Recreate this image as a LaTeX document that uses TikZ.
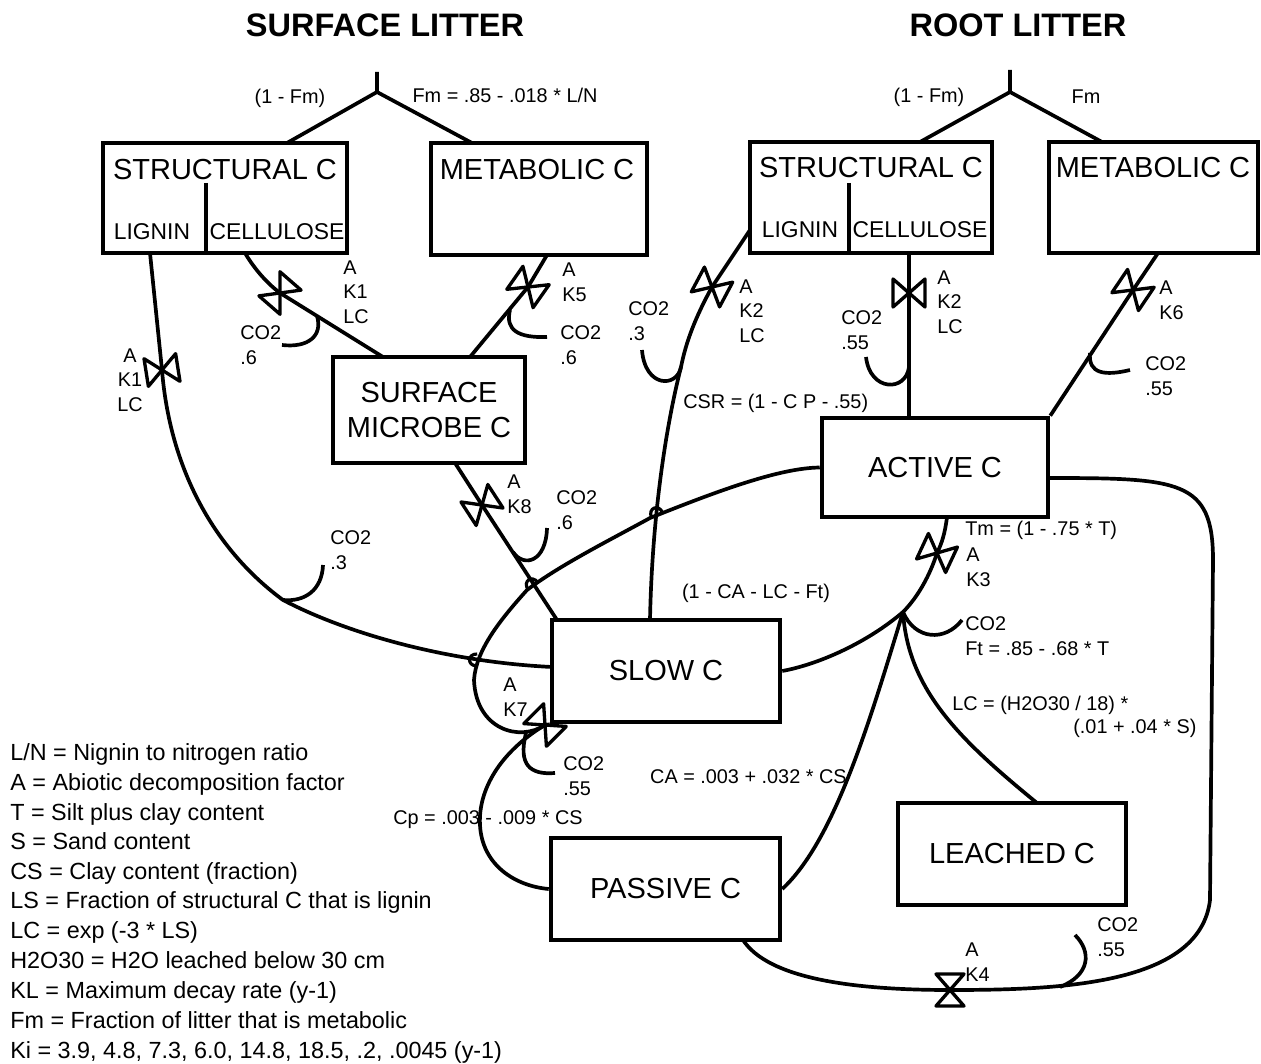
\documentclass[tikz,border=0pt]{standalone}
\usepackage{fontspec}
\setmainfont{Liberation Sans}
\usetikzlibrary{positioning}

\begin{document}
\begin{tikzpicture}[x=0.02cm, y=-0.02cm,
        pool/.style={draw, line width=2.6pt, inner sep=0pt},
        flow/.style={line width=2.1pt},
        boxtext/.style={font=\fontsize{16.5}{20}\selectfont, inner sep=0pt, align=center},
        subtext/.style={font=\fontsize{13}{16}\selectfont, inner sep=0pt},
        lbl/.style={font=\fontsize{11.3}{14}\selectfont, inner sep=0pt, align=left, anchor=west},
        heading/.style={font=\bfseries\fontsize{18.5}{22}\selectfont, inner sep=0pt},
        legendtext/.style={font=\fontsize{13.3}{16}\selectfont, inner sep=0pt, anchor=base west},
        valve/.pic={\draw[line width=1.9pt, line join=round] (0,0) -- (-14,-16) -- (14,-16) -- cycle (0,0) -- (-14,16) -- (14,16) -- cycle;},
        hop/.pic={\draw[line width=1.8pt] (-6,0) .. controls (-6,-10) and (6,-10) .. (6,0);}
    ]
        \useasboundingbox (0,0) rectangle (1261,1064);

        % Titles
        \node[heading] (surfTitle) at (385,25) {SURFACE LITTER};
        \node[heading] (rootTitle) at (1018,25) {ROOT LITTER};

        % Litter pools
        \node[pool, minimum width=4.88cm, minimum height=2.2cm] (sStruct) at (225,198) {};
        \node[boxtext] (sStructLbl) at (225,170) {STRUCTURAL C};
        \node[subtext] (sLignin) at (152,232) {LIGNIN};
        \node[subtext] (sCellulose) at (277,232) {CELLULOSE};
        \draw[flow] (206,183) -- (206,253);

        \node[pool, minimum width=4.32cm, minimum height=2.24cm] (sMeta) at (539,199) {};
        \node[boxtext] (sMetaLbl) at (537,170) {METABOLIC C};

        \node[pool, minimum width=4.84cm, minimum height=2.22cm] (rStruct) at (871,197.5) {};
        \node[boxtext] (rStructLbl) at (871,168) {STRUCTURAL C};
        \node[subtext] (rLignin) at (800,230) {LIGNIN};
        \node[subtext] (rCellulose) at (920,230) {CELLULOSE};
        \draw[flow] (849,183) -- (849,253);

        \node[pool, minimum width=4.18cm, minimum height=2.22cm] (rMeta) at (1153.5,197.5) {};
        \node[boxtext] (rMetaLbl) at (1153,168) {METABOLIC C};

        % Soil pools
        \node[pool, boxtext, minimum width=3.84cm, minimum height=2.12cm] (sMicrobe) at (429,410) {SURFACE\\MICROBE C};
        \node[pool, boxtext, minimum width=4.52cm, minimum height=1.98cm] (active) at (935,467.5) {ACTIVE C};
        \node[pool, boxtext, minimum width=4.56cm, minimum height=2.04cm] (slow) at (666,671) {SLOW C};
        \node[pool, boxtext, minimum width=4.58cm, minimum height=2.04cm] (passive) at (665.5,889) {PASSIVE C};
        \node[pool, boxtext, minimum width=4.56cm, minimum height=2.04cm] (leached) at (1012,854) {LEACHED C};

        % Partitioning of litter input
        \coordinate (sIn) at (377,72);
        \coordinate (sFork) at (377,92);
        \coordinate (sStructIn) at (287,143);
        \coordinate (sMetaIn) at (472,143);
        \draw[flow] (sIn) -- (sFork) -- (sStructIn);
        \draw[flow] (sFork) -- (sMetaIn);
        \node[lbl, anchor=center] (sFrac) at (290,98) {(1 - Fm)};
        \node[lbl, anchor=center] (sFm) at (505,95) {Fm = .85 - .018 * L/N};

        \coordinate (rIn) at (1010,70);
        \coordinate (rFork) at (1010,92);
        \coordinate (rStructIn) at (920,142);
        \coordinate (rMetaIn) at (1102,142);
        \draw[flow] (rIn) -- (rFork) -- (rStructIn);
        \draw[flow] (rFork) -- (rMetaIn);
        \node[lbl, anchor=center] (rFrac) at (929,97) {(1 - Fm)};
        \node[lbl, anchor=center] (rFm) at (1086,97) {Fm};

        % Surface lignin to slow C
        \coordinate (sLigOut) at (150,253);
        \coordinate (vK1a) at (162,370);
        \coordinate (co2a) at (283,600);
        \coordinate (co2aEnd) at (323,565);
        \coordinate (slowLig) at (552,667);
        \draw[flow] (sLigOut) -- (vK1a) .. controls (170,470) and (215,550) .. (co2a) .. controls (350,635) and (450,662) .. (slowLig);
        \draw[flow] (co2a) .. controls (305,602) and (322,590) .. (co2aEnd);
        \pic[rotate=99] at (vK1a) {valve};
        \node[lbl, align=center, anchor=center] (kLigS) at (130,380) {A\\K1\\LC};
        \node[lbl] (co2LigS) at (330,550) {CO2\\.3};

        % Surface cellulose to surface microbes
        \coordinate (sCelOut) at (245,253);
        \coordinate (vK1b) at (280,293);
        \coordinate (co2b) at (317,316);
        \coordinate (co2bEnd) at (282,345);
        \coordinate (sMicIn1) at (383,357);
        \draw[flow] (sCelOut) .. controls (255,270) and (268,284) .. (vK1b) -- (sMicIn1);
        \draw[flow] (co2b) .. controls (323,336) and (308,348) .. (co2bEnd);
        \pic[rotate=-41] at (vK1b) {valve};
        \node[lbl] (kCelS) at (343,292) {A\\K1\\LC};
        \node[lbl] (co2CelS) at (240,345) {CO2\\.6};

        % Surface metabolic to surface microbes
        \coordinate (sMetOut) at (547,255);
        \coordinate (vK5) at (528,287);
        \coordinate (co2c) at (510,310);
        \coordinate (co2cEnd) at (547,337);
        \coordinate (sMicIn2) at (470,357);
        \draw[flow] (sMetOut) -- (vK5) -- (sMicIn2);
        \draw[flow] (co2c) .. controls (505,330) and (518,338) .. (co2cEnd);
        \pic[rotate=55] at (vK5) {valve};
        \node[lbl] (kMetS) at (562,282) {A\\K5};
        \node[lbl] (co2MetS) at (560,345) {CO2\\.6};

        % Surface microbes to slow C
        \coordinate (sMicOut) at (455,463);
        \coordinate (vK8) at (482,505);
        \coordinate (co2d) at (513,552);
        \coordinate (co2dEnd) at (547,528);
        \coordinate (slowIn1) at (557,620);
        \draw[flow] (sMicOut) -- (vK8) -- (slowIn1);
        \draw[flow] (co2d) .. controls (524,568) and (546,562) .. (co2dEnd);
        \pic[rotate=-57] at (vK8) {valve};
        \node[lbl] (kMic) at (507,494) {A\\K8};
        \node[lbl] (co2Mic) at (556,510) {CO2\\.6};

        % Root lignin to slow C
        \coordinate (rLigOut) at (750,230);
        \coordinate (vK2a) at (712,287);
        \coordinate (co2e) at (681,367);
        \coordinate (co2eEnd) at (642,350);
        \coordinate (slowIn2) at (650,620);
        \draw[flow] (rLigOut) -- (vK2a) .. controls (695,318) and (686,342) .. (co2e) .. controls (665,430) and (652,520) .. (slowIn2);
        \draw[flow] (co2e) .. controls (677,388) and (645,388) .. (co2eEnd);
        \pic[rotate=62] at (vK2a) {valve};
        \node[lbl] (kLigR) at (739,311) {A\\K2\\LC};
        \node[lbl] (co2LigR) at (628,321) {CO2\\.3};
        \node[lbl] (csr) at (683,403) {CSR = (1 - C P - .55)};

        % Root cellulose to active C
        \coordinate (rCelOut) at (909,253);
        \coordinate (vK2b) at (909,293);
        \coordinate (co2f) at (909,367);
        \coordinate (co2fEnd) at (866,357);
        \coordinate (actIn1) at (909,418);
        \draw[flow] (rCelOut) -- (vK2b) -- (actIn1);
        \draw[flow] (co2f) .. controls (906,392) and (870,392) .. (co2fEnd);
        \pic[rotate=90] at (vK2b) {valve};
        \node[lbl] (kCelR) at (937,302) {A\\K2\\LC};
        \node[lbl] (co2CelR) at (841,330) {CO2\\.55};

        % Root metabolic to active C
        \coordinate (rMetOut) at (1158,253);
        \coordinate (vK6) at (1133,290);
        \coordinate (co2g) at (1090,353);
        \coordinate (co2gEnd) at (1130,370);
        \draw[flow] (rMetOut) -- (vK6) -- (active.north east);
        \draw[flow] (co2g) .. controls (1088,374) and (1105,376) .. (co2gEnd);
        \pic[rotate=56] at (vK6) {valve};
        \node[lbl] (kMetR) at (1159,300) {A\\K6};
        \node[lbl] (co2MetR) at (1145,376) {CO2\\.55};

        % Active C decay
        \coordinate (actOut) at (947,517);
        \coordinate (vK3) at (937,553);
        \coordinate (split) at (903,612);
        \coordinate (co2h) at (962,620);
        \coordinate (leachIn) at (1037,803);
        \draw[flow] (actOut) .. controls (945,533) and (942,543) .. (vK3) .. controls (930,575) and (918,597) .. (split) .. controls (868,642) and (820,664) .. (slow.east);
        \draw[flow] (split) .. controls (915,640) and (945,642) .. (co2h);
        \draw[flow] (split) .. controls (870,720) and (835,840) .. (passive.east);
        \draw[flow] (split) .. controls (908,690) and (960,740) .. (leachIn);
        \pic[rotate=65] at (vK3) {valve};
        \node[lbl] (tm) at (965,530) {Tm = (1 - .75 * T)};
        \node[lbl] (kAct) at (966,567) {A\\K3};
        \node[lbl] (co2Act) at (965,636) {CO2\\Ft = .85 - .68 * T};
        \node[lbl, anchor=center] (toSlow) at (756,593) {(1 - CA - LC - Ft)};
        \node[lbl, anchor=east] (toPas) at (847,777) {CA = .003 + .032 * CS};
        \node[lbl] (toLeach) at (952,705) {LC = (H2O30 / 18) *};
        \node[lbl] (toLeach2) at (1073,728) {(.01 + .04 * S)};

        % Slow C decay
        \coordinate (vK7) at (545,725);
        \coordinate (co2k) at (526,733);
        \coordinate (co2kEnd) at (555,773);
        \coordinate (loopA) at (474,680);
        \coordinate (loopB) at (527,590);
        \coordinate (loopC) at (650,518);
        \coordinate (toPasMid) at (480,825);
        \draw[flow] (slow.south west) -- (vK7) .. controls (520,742) and (476,730) .. (loopA) .. controls (476,650) and (500,620) .. (loopB) .. controls (560,565) and (610,540) .. (loopC) .. controls (720,490) and (780,468) .. (active.west);
        \draw[flow] (vK7) .. controls (500,752) and (478,790) .. (toPasMid) .. controls (482,865) and (515,886) .. (passive.west);
        \draw[flow] (co2k) .. controls (518,765) and (530,775) .. (co2kEnd);
        \pic[rotate=45] at (vK7) {valve};
        \coordinate (hop1) at (477,660);
        \coordinate (hop2) at (533,586);
        \coordinate (hop3) at (657,515);
        \pic[rotate=88] at (hop1) {hop};
        \pic[rotate=37] at (hop2) {hop};
        \pic[rotate=22] at (hop3) {hop};
        \node[lbl] (kSlow) at (503,697) {A\\K7};
        \node[lbl] (co2Slow) at (563,776) {CO2\\.55};
        \node[lbl] (cp) at (393,820) {Cp = .003 - .009 * CS};

        % Passive C decay
        \coordinate (pasOut) at (743,940);
        \coordinate (vK4) at (950,990);
        \coordinate (co2m) at (1060,987);
        \coordinate (co2mEnd) at (1075,935);
        \coordinate (loopD) at (1210,900);
        \coordinate (loopE) at (1213,560);
        \coordinate (actIn2) at (1048,478);
        \draw[flow] (pasOut) .. controls (768,978) and (850,990) .. (vK4) .. controls (1060,990) and (1200,985) .. (loopD) -- (loopE) .. controls (1213,480) and (1180,478) .. (actIn2);
        \draw[flow] (co2m) .. controls (1090,975) and (1092,952) .. (co2mEnd);
        \pic at (vK4) {valve};
        \node[lbl] (kPas) at (965,962) {A\\K4};
        \node[lbl] (co2Pas) at (1097,937) {CO2\\.55};

        % Legend
        \node[legendtext] (leg1) at (10,760) {L/N = Nignin to nitrogen ratio};
        \node[legendtext] (leg2) at (10,790) {A = Abiotic decomposition factor};
        \node[legendtext] (leg3) at (10,820) {T = Silt plus clay content};
        \node[legendtext] (leg4) at (10,849) {S = Sand content};
        \node[legendtext] (leg5) at (10,879) {CS = Clay content (fraction)};
        \node[legendtext] (leg6) at (10,908) {LS = Fraction of structural C that is lignin};
        \node[legendtext] (leg7) at (10,938) {LC = exp (-3 * LS)};
        \node[legendtext] (leg8) at (10,968) {H2O30 = H2O leached below 30 cm};
        \node[legendtext] (leg9) at (10,998) {KL = Maximum decay rate (y-1)};
        \node[legendtext] (leg10) at (10,1028) {Fm = Fraction of litter that is metabolic};
        \node[legendtext] (leg11) at (10,1058) {Ki = 3.9, 4.8, 7.3, 6.0, 14.8, 18.5, .2, .0045 (y-1)};
    \end{tikzpicture}
\end{document}
